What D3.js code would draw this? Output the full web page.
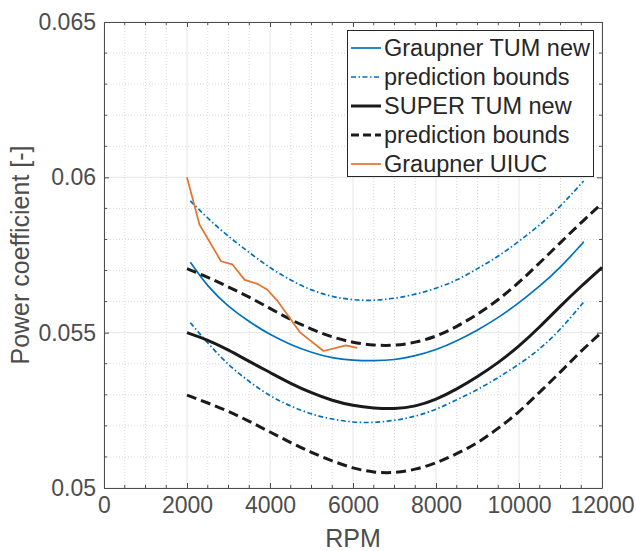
<!DOCTYPE html>
<html>
<head>
<meta charset="utf-8">
<script src="https://cdn.jsdelivr.net/npm/d3@7/dist/d3.min.js"></script>
<style>
  html, body { margin: 0; padding: 0; background: #fff; }
  svg { display: block; font-family: "Liberation Sans", Arial, sans-serif; }
</style>
</head>
<body>
<svg id="chart" width="636" height="551"></svg>
<script>
// Power coefficient vs RPM: fitted curves with prediction bounds, plus UIUC measurements

const xTicks = [0, 2000, 4000, 6000, 8000, 10000, 12000];
const xTickLabels = ["0", "2000", "4000", "6000", "8000", "10000", "12000"];
const yTicks = [0.05, 0.055, 0.06, 0.065];
const yTickLabels = ["0.05", "0.055", "0.06", "0.065"];

// Graupner TUM new (fit + prediction bounds)
const graupnerRpm   = [2080, 2500, 3000, 3500, 4000, 4500, 5000, 5500, 6000, 6500, 7000, 7500, 8000, 8500, 9000, 9500, 10000, 10500, 11000, 11500, 11560];
const graupnerFit   = [0.05727, 0.05647, 0.05583, 0.05535, 0.05493, 0.05461, 0.05436, 0.05418, 0.05411, 0.05409, 0.05412, 0.05425, 0.05444, 0.05473, 0.05508, 0.05548, 0.05596, 0.05649, 0.05710, 0.05783, 0.05793];
const graupnerUpper = [0.05924, 0.05868, 0.05809, 0.05758, 0.05708, 0.05668, 0.05636, 0.05615, 0.05605, 0.05603, 0.05610, 0.05623, 0.05642, 0.05668, 0.05706, 0.05745, 0.05794, 0.05846, 0.05906, 0.05980, 0.05988];
const graupnerLower = [0.05532, 0.05466, 0.05395, 0.05342, 0.05295, 0.05263, 0.05237, 0.05221, 0.05211, 0.05210, 0.05217, 0.05230, 0.05252, 0.05284, 0.05316, 0.05355, 0.05398, 0.05446, 0.05510, 0.05589, 0.05599];

// SUPER TUM new (fit + prediction bounds)
const superRpm   = [2000, 2500, 3000, 3500, 4000, 4500, 5000, 5500, 6000, 6500, 7000, 7500, 8000, 8500, 9000, 9500, 10000, 10500, 11000, 11500, 12000];
const superFit   = [0.05500, 0.05477, 0.05445, 0.05407, 0.05372, 0.05336, 0.05306, 0.05281, 0.05265, 0.05257, 0.05254, 0.05262, 0.05284, 0.05318, 0.05358, 0.05403, 0.05456, 0.05518, 0.05586, 0.05650, 0.05710];
const superUpper = [0.05706, 0.05679, 0.05647, 0.05615, 0.05578, 0.05541, 0.05511, 0.05485, 0.05468, 0.05459, 0.05458, 0.05468, 0.05487, 0.05519, 0.05559, 0.05605, 0.05661, 0.05725, 0.05790, 0.05855, 0.05916];
const superLower = [0.05299, 0.05274, 0.05247, 0.05215, 0.05180, 0.05146, 0.05114, 0.05087, 0.05063, 0.05050, 0.05048, 0.05059, 0.05080, 0.05110, 0.05144, 0.05192, 0.05244, 0.05309, 0.05373, 0.05442, 0.05502];

// Graupner UIUC measurements
const uiucRpm = [2000, 2300, 2820, 3090, 3390, 3700, 3930, 4170, 4730, 5290, 5830, 6100];
const uiucCp  = [0.06000, 0.05848, 0.05730, 0.05720, 0.05670, 0.05657, 0.05639, 0.05604, 0.05500, 0.05441, 0.05459, 0.05451];

const legendLabels = ["Graupner TUM new", "prediction bounds", "SUPER TUM new", "prediction bounds", "Graupner UIUC"];

const BLUE = "#0072BD", BLACK = "#1a1a1a", ORANGE = "#E5722D";
const AXIS = "#4d4d4d";

const svg = d3.select("#chart");
const m = { left: 104, top: 22, right: 602, bottom: 488 };

const x = d3.scaleLinear().domain([0, 12000]).range([m.left, m.right]);
const y = d3.scaleLinear().domain([0.05, 0.065]).range([m.bottom, m.top]);

// grid: minor dotted, major solid
const minorX = d3.range(0, 12001, 500).filter(v => v % 2000 !== 0);
const minorY = d3.range(0, 16).filter(i => i % 5 !== 0).map(i => 0.05 + i * 0.001);
const g = svg.append("g");
minorX.forEach(v => {
  g.append("line").attr("x1", x(v)).attr("x2", x(v)).attr("y1", m.top).attr("y2", m.bottom)
    .attr("stroke", "#d0d0d0").attr("stroke-width", 0.8).attr("stroke-dasharray", "1,2");
});
minorY.forEach(v => {
  g.append("line").attr("x1", m.left).attr("x2", m.right).attr("y1", y(v)).attr("y2", y(v))
    .attr("stroke", "#d0d0d0").attr("stroke-width", 0.8).attr("stroke-dasharray", "1,2");
});
xTicks.forEach(v => {
  g.append("line").attr("x1", x(v)).attr("x2", x(v)).attr("y1", m.top).attr("y2", m.bottom)
    .attr("stroke", "#e6e6e6").attr("stroke-width", 1);
});
yTicks.forEach(v => {
  g.append("line").attr("x1", m.left).attr("x2", m.right).attr("y1", y(v)).attr("y2", y(v))
    .attr("stroke", "#e6e6e6").attr("stroke-width", 1);
});

// axes (ticks point inward, box on all four sides)
const axB = d3.axisBottom(x).tickValues(xTicks).tickFormat((d, i) => xTickLabels[i]).tickSizeInner(-5).tickSizeOuter(0).tickPadding(9);
const axL = d3.axisLeft(y).tickValues(yTicks).tickFormat((d, i) => yTickLabels[i]).tickSizeInner(-5).tickSizeOuter(0).tickPadding(8);
const axT = d3.axisTop(x).tickValues(xTicks).tickSizeInner(-5).tickSizeOuter(0).tickFormat("");
const axR = d3.axisRight(y).tickValues(yTicks).tickSizeInner(-5).tickSizeOuter(0).tickFormat("");

function styleAxis(sel) {
  sel.select(".domain").attr("stroke", AXIS).attr("stroke-width", 1);
  sel.selectAll(".tick line").attr("stroke", AXIS);
  sel.selectAll(".tick text").attr("fill", AXIS).style("font-size", "23px")
    .style("font-family", "'Liberation Sans', Arial, sans-serif");
}
svg.append("g").attr("transform", `translate(0,${m.bottom})`).call(axB).call(styleAxis);
svg.append("g").attr("transform", `translate(${m.left},0)`).call(axL).call(styleAxis);
svg.append("g").attr("transform", `translate(0,${m.top})`).call(axT).call(styleAxis);
svg.append("g").attr("transform", `translate(${m.right},0)`).call(axR).call(styleAxis);

// minor ticks on all four sides
minorX.forEach(v => {
  svg.append("line").attr("x1", x(v)).attr("x2", x(v)).attr("y1", m.bottom).attr("y2", m.bottom - 3).attr("stroke", AXIS);
  svg.append("line").attr("x1", x(v)).attr("x2", x(v)).attr("y1", m.top).attr("y2", m.top + 3).attr("stroke", AXIS);
});
minorY.forEach(v => {
  svg.append("line").attr("x1", m.left).attr("x2", m.left + 3).attr("y1", y(v)).attr("y2", y(v)).attr("stroke", AXIS);
  svg.append("line").attr("x1", m.right).attr("x2", m.right - 3).attr("y1", y(v)).attr("y2", y(v)).attr("stroke", AXIS);
});

// axis titles
svg.append("text").attr("x", (m.left + m.right) / 2).attr("y", 547).attr("text-anchor", "middle")
  .attr("fill", AXIS).style("font-size", "25px").text("RPM");
svg.append("text").attr("transform", `translate(29,${(m.top + m.bottom) / 2}) rotate(-90)`)
  .attr("text-anchor", "middle").attr("fill", AXIS).style("font-size", "25px").text("Power coefficient [-]");

// curves (fits are smooth, so a B-spline through the samples)
const plot = svg.append("g");
const smooth = d3.line().x(d => x(d[0])).y(d => y(d[1])).curve(d3.curveBasis);
function draw(xs, ys, color, width, dash) {
  plot.append("path").datum(d3.zip(xs, ys)).attr("d", smooth).attr("fill", "none")
    .attr("stroke", color).attr("stroke-width", width).attr("stroke-dasharray", dash || null)
    .attr("stroke-linejoin", "round");
}
const BLUE_DASH = "5,2.5,1.5,2.5";
const BLACK_DASH = "10,5";
draw(graupnerRpm, graupnerFit, BLUE, 1.7);
draw(graupnerRpm, graupnerUpper, BLUE, 1.7, BLUE_DASH);
draw(graupnerRpm, graupnerLower, BLUE, 1.7, BLUE_DASH);
draw(superRpm, superFit, BLACK, 3);
draw(superRpm, superUpper, BLACK, 3, BLACK_DASH);
draw(superRpm, superLower, BLACK, 3, BLACK_DASH);
plot.append("path").datum(d3.zip(uiucRpm, uiucCp)).attr("fill", "none")
  .attr("d", d3.line().x(d => x(d[0])).y(d => y(d[1])))
  .attr("stroke", ORANGE).attr("stroke-width", 1.7).attr("stroke-linejoin", "round");

// legend
const styles = [
  { c: BLUE, w: 1.7, d: null },
  { c: BLUE, w: 1.7, d: BLUE_DASH },
  { c: BLACK, w: 3, d: null },
  { c: BLACK, w: 3, d: "8,4" },
  { c: ORANGE, w: 1.7, d: null }
];
const lg = svg.append("g");
lg.append("rect").attr("x", 347.5).attr("y", 30.5).attr("width", 246).attr("height", 146)
  .attr("fill", "#fff").attr("stroke", "#262626").attr("stroke-width", 1);
legendLabels.forEach((t, i) => {
  const cy = 48 + i * 29;
  lg.append("line").attr("x1", 351).attr("x2", 381).attr("y1", cy).attr("y2", cy)
    .attr("stroke", styles[i].c).attr("stroke-width", styles[i].w).attr("stroke-dasharray", styles[i].d);
  lg.append("text").attr("x", 384).attr("y", cy + 8).attr("fill", "#262626").style("font-size", "23.5px").text(t);
});
</script>
</body>
</html>
